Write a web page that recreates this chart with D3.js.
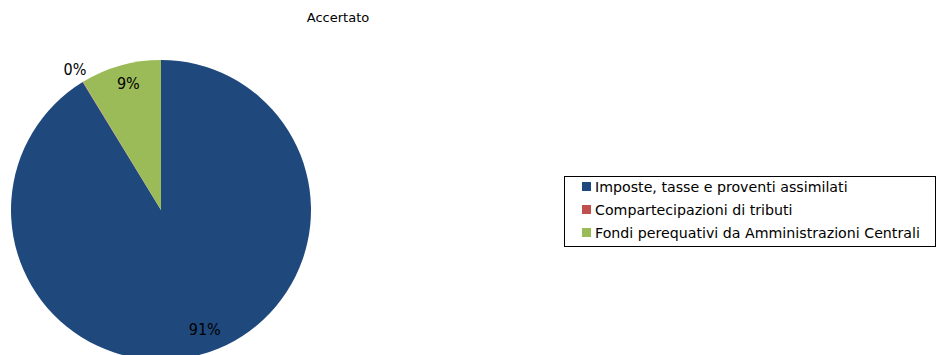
<!DOCTYPE html>
<html>
<head>
<meta charset="utf-8">
<script src="https://cdn.jsdelivr.net/npm/d3@7"></script>
<style>
  html, body { margin: 0; padding: 0; background: #fff; }
  svg { display: block; }
  text { font-family: "DejaVu Sans", sans-serif; fill: #000; }
  .lbl { font-family: "DejaVu Sans Condensed", "DejaVu Sans", sans-serif; }
</style>
</head>
<body>
<svg id="chart" width="937" height="355"></svg>
<script>
// Revenue composition (accertato), in percent
const categories = [
  "Imposte, tasse e proventi assimilati",
  "Compartecipazioni di tributi",
  "Fondi perequativi da Amministrazioni Centrali"
];
const values = [91.25, 0.05, 8.7];
const labels = ["91%", "0%", "9%"];
const colors = ["#1F497D", "#C0504D", "#9BBB59"];

const svg = d3.select("#chart");

svg.append("text")
  .attr("x", 338).attr("y", 22)
  .attr("text-anchor", "middle")
  .style("font-size", "13px")
  .text("Accertato");

const cx = 161, cy = 210, r = 150;
const pie = d3.pie().sort(null).value(d => d)(values);
const arc = d3.arc().innerRadius(0).outerRadius(r);

const g = svg.append("g").attr("transform", `translate(${cx},${cy})`);
g.selectAll("path").data(pie).join("path")
  .attr("d", arc)
  .attr("fill", (d, i) => colors[i]);

// Label radius (fraction of r) and horizontal nudge per slice
const labelRadius = [0.83, 1.1, 0.88];
const labelNudge = [10, 0, 3];
g.selectAll("text.lbl").data(pie).join("text")
  .attr("class", "lbl")
  .attr("transform", (d, i) => {
    const rr = r * labelRadius[i];
    const c = d3.arc().innerRadius(rr).outerRadius(rr).centroid(d);
    return `translate(${c[0] + labelNudge[i]},${c[1]})`;
  })
  .attr("text-anchor", "middle")
  .attr("dy", "0.35em")
  .style("font-size", "16px")
  .text((d, i) => labels[i]);

// Legend
const lx = 564, ly = 176, lw = 372, lh = 70;
const leg = svg.append("g");
leg.append("rect")
  .attr("x", lx + 0.5).attr("y", ly + 0.5)
  .attr("width", lw - 1).attr("height", lh)
  .attr("fill", "#fff").attr("stroke", "#000").attr("stroke-width", 1);
const rowY = d3.scalePoint().domain(categories).range([187, 233]);
const items = leg.selectAll("g.item").data(categories).join("g")
  .attr("class", "item")
  .attr("transform", d => `translate(0,${rowY(d)})`);
items.append("rect")
  .attr("x", 582).attr("y", -5)
  .attr("width", 9).attr("height", 9)
  .attr("fill", (d, i) => colors[i]);
items.append("text")
  .attr("x", 595).attr("y", 0)
  .attr("dy", "0.35em")
  .style("font-size", "14.2px")
  .text(d => d);
</script>
</body>
</html>
